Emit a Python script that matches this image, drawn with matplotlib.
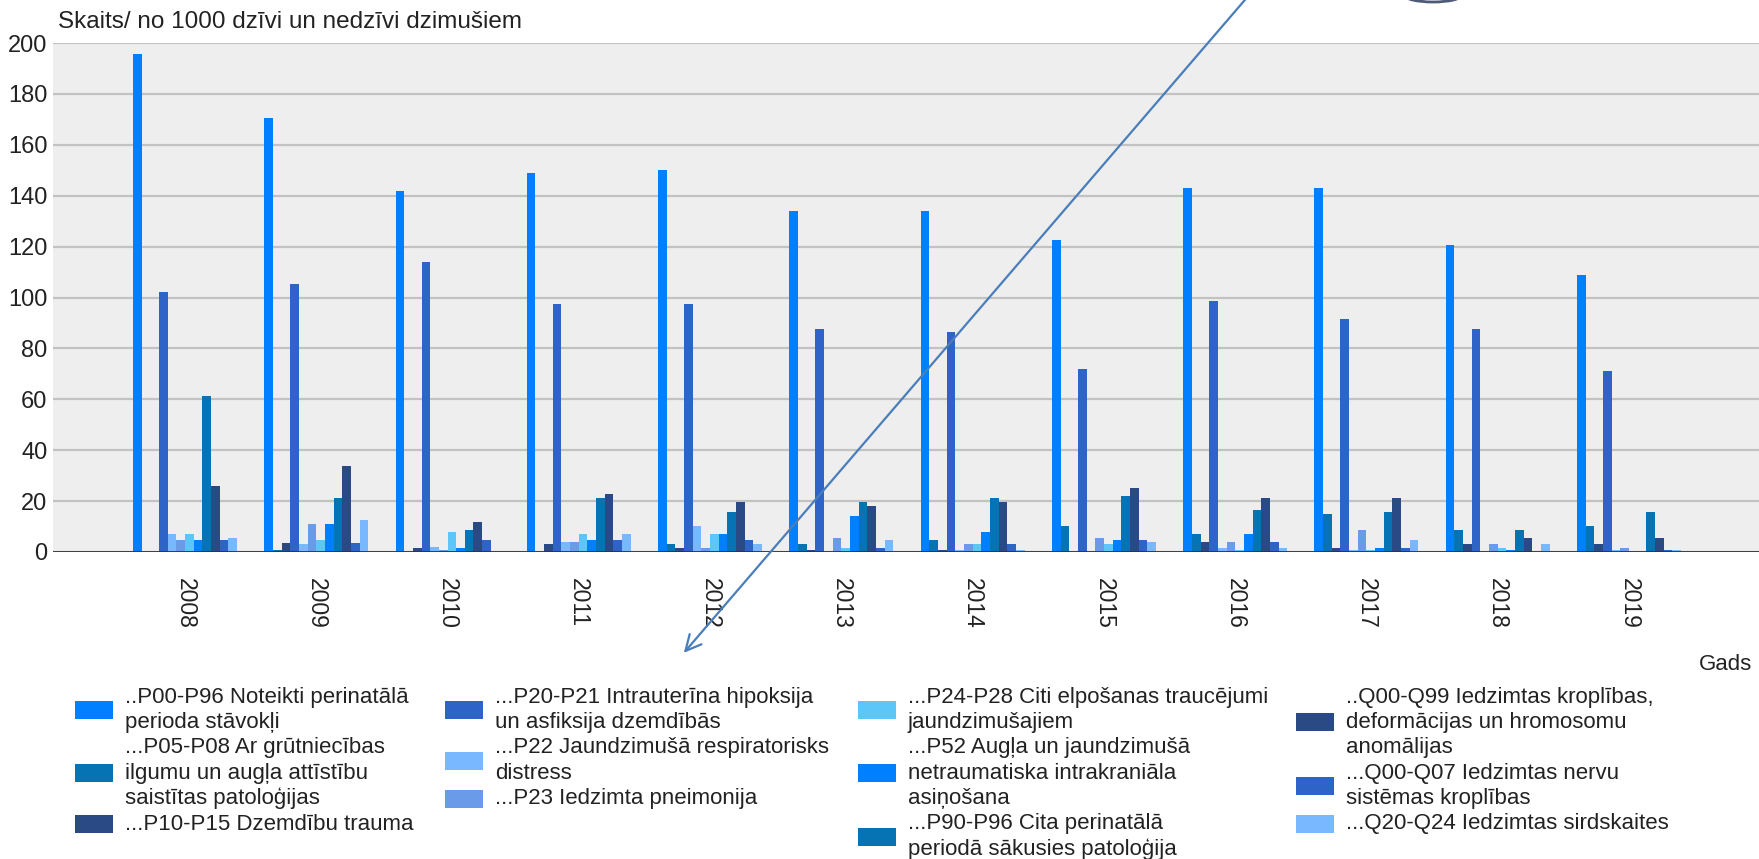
import numpy as np
import matplotlib
matplotlib.use("Agg")
import matplotlib.pyplot as plt
from matplotlib.patches import Rectangle, FancyArrowPatch, Ellipse

plt.rcParams['font.family'] = ['Liberation Sans', 'DejaVu Sans']

years = ['2008', '2009', '2010', '2011', '2012', '2013', '2014', '2015', '2016', '2017', '2018', '2019']

# rate per 1000 live and still births, one list per cause group
p00_p96 = [195.5, 170.5, 142, 149, 150, 134, 134, 122.5, 143, 143, 120.5, 109]
p05_p08 = [0, 0.6, 0, 0, 3.1, 3.1, 4.6, 10.1, 7.0, 14.9, 8.6, 10.1]
p10_p15 = [0, 3.7, 1.6, 3.1, 1.5, 0.7, 0.7, 0, 3.8, 1.5, 3.1, 3.1]
p20_p21 = [102, 105.5, 114, 97.5, 97.5, 87.5, 86.5, 72, 98.5, 91.5, 87.5, 71]
p22 = [7.0, 3.0, 1.8, 3.8, 10.1, 0, 0.7, 0, 1.5, 0.7, 0, 0.7]
p23 = [4.6, 10.9, 0.9, 3.8, 1.5, 5.4, 3.1, 5.4, 3.8, 8.6, 3.1, 1.5]
p24_p28 = [7.0, 4.6, 7.8, 7.0, 7.0, 1.5, 3.1, 3.1, 0.7, 0.7, 1.5, 0]
p52 = [4.6, 10.9, 1.6, 4.6, 7.0, 14.1, 7.8, 4.6, 7.0, 1.5, 0.7, 0]
p90_p96 = [61.4, 21.3, 8.6, 21.3, 15.6, 19.6, 21.1, 21.9, 16.4, 15.6, 8.6, 15.6]
q00_q99 = [25.9, 33.7, 11.7, 22.7, 19.6, 18.0, 19.6, 25.1, 21.1, 21.1, 5.4, 5.4]
q00_q07 = [4.6, 3.7, 4.6, 4.6, 4.6, 1.5, 3.1, 4.6, 3.8, 1.5, 0, 0.7]
q20_q24 = [5.5, 12.5, 0, 7.0, 3.1, 4.6, 0.7, 3.8, 1.5, 4.6, 3.1, 0.7]

labels = [
    "..P00-P96 Noteikti perinatālā\nperioda stāvokļi",
    "...P05-P08 Ar grūtniecības\nilgumu un augļa attīstību\nsaistītas patoloģijas",
    "...P10-P15 Dzemdību trauma",
    "...P20-P21 Intrauterīna hipoksija\nun asfiksija dzemdībās",
    "...P22 Jaundzimušā respiratorisks\ndistress",
    "...P23 Iedzimta pneimonija",
    "...P24-P28 Citi elpošanas traucējumi\njaundzimušajiem",
    "...P52 Augļa un jaundzimušā\nnetraumatiska intrakraniāla\nasiņošana",
    "...P90-P96 Cita perinatālā\nperiodā sākusies patoloģija",
    "..Q00-Q99 Iedzimtas kroplības,\ndeformācijas un hromosomu\nanomālijas",
    "...Q00-Q07 Iedzimtas nervu\nsistēmas kroplības",
    "...Q20-Q24 Iedzimtas sirdskaites",
]

series = [p00_p96, p05_p08, p10_p15, p20_p21, p22, p23,
          p24_p28, p52, p90_p96, q00_q99, q00_q07, q20_q24]

colors = ['#0080ff', '#0673b5', '#2a4a86', '#2e64c8', '#79b7ff', '#6a9be8',
          '#5cc6f9', '#0080ff', '#0673b5', '#2a4a86', '#2e64c8', '#79b7ff']

W, H = 1759, 859
fig = plt.figure(figsize=(W / 100, H / 100), dpi=100)

def fx(px):
    return px / W

def fy(py):
    return 1 - py / H

# plot box in pixels: left 53, top 43, bottom 552, runs to the right edge
ax = fig.add_axes([fx(53), fy(552), fx(W - 53), (552 - 43) / H])
ax.set_facecolor('#eeeeee')

x = np.arange(len(years))
bw = 0.066
for i, (vals, col) in enumerate(zip(series, colors)):
    ax.bar(x + (i - 5.5) * bw, vals, width=bw, color=col, linewidth=0, zorder=3)

ax.set_ylim(0, 200)
ax.set_xlim(-1.005, 11.99)
ax.set_yticks(range(0, 201, 20))
ax.yaxis.grid(True, color='#c2c2c2', linewidth=1.6, zorder=0)
ax.set_axisbelow(True)
ax.axhline(0, color='#333333', linewidth=2, zorder=4)
for s in ax.spines.values():
    s.set_visible(False)

ax.set_xticks(x)
ax.set_xticklabels(years, rotation=270, fontsize=16.5, color='#222222')
ax.tick_params(axis='x', length=0, pad=19)
ax.tick_params(axis='y', length=0, pad=4, labelsize=17, labelcolor='#222222')

fig.text(fx(58), fy(22), 'Skaits/ no 1000 dzīvi un nedzīvi dzimušiem',
         fontsize=17.5, color='#222222', va='center', ha='left')
fig.text(fx(1752), fy(664), 'Gads', fontsize=16, color='#222222',
         va='center', ha='right')

# legend, four columns stacked line by line
col_x = [75, 445, 858, 1296]
line0, pitch = 697, 25.4
for c in range(4):
    row = 0
    for k in range(3):
        idx = c * 3 + k
        lines = labels[idx].split('\n')
        mid = line0 + pitch * (row + (len(lines) - 1) / 2)
        fig.patches.append(Rectangle((fx(col_x[c]), fy(mid + 9)), 38 / W, 18 / H,
                                     transform=fig.transFigure, facecolor=colors[idx],
                                     edgecolor='none'))
        for ln in lines:
            fig.text(fx(col_x[c] + 50), fy(line0 + pitch * row), ln, fontsize=16,
                     color='#222222', va='center', ha='left')
            row += 1

arrow = FancyArrowPatch((fx(1250), fy(-6)), (fx(682), fy(655)),
                        transform=fig.transFigure, arrowstyle='->',
                        mutation_scale=28, color='#4a7ebb', linewidth=1.6)
fig.patches.append(arrow)
fig.patches.append(Ellipse((fx(1433), fy(-5)), 58 / W, 14 / H, transform=fig.transFigure,
                           facecolor='none', edgecolor='#4d5b78', linewidth=2))

fig.savefig('out.png', dpi=100)
